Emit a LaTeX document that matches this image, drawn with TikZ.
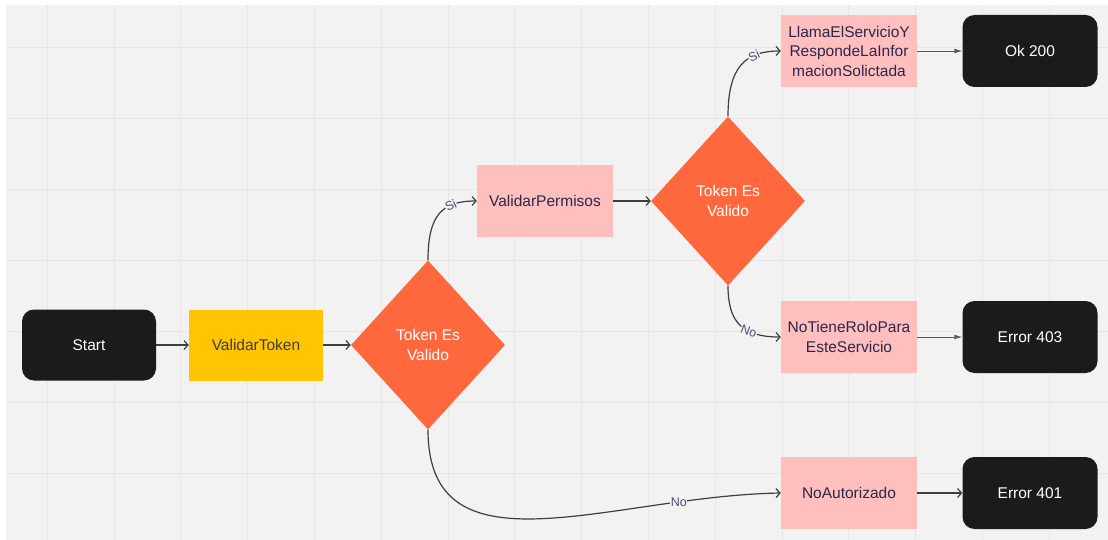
\documentclass[tikz,border=0pt]{standalone}
\usepackage{fontspec}
\setmainfont{Liberation Sans}
\usepackage{tikz}
\usetikzlibrary{arrows.meta}
\usetikzlibrary{shapes.geometric}
\definecolor{fc-bg}{HTML}{F2F2F2}
\definecolor{fc-grid}{HTML}{E6E6E6}
\definecolor{fc-dark}{HTML}{1B1B1B}
\definecolor{fc-yellow}{HTML}{FFC403}
\definecolor{fc-pink}{HTML}{FFBFBF}
\definecolor{fc-orange}{HTML}{FF683D}
\definecolor{fc-line}{HTML}{3E3E3E}
\definecolor{fc-text}{HTML}{2A2848}
\definecolor{fc-label}{HTML}{4B4A78}
\newcommand{\flowfont}{\fontsize{15.5}{19.5}\selectfont}

\begin{document}
\begin{tikzpicture}[x=1pt, y=-1pt,
    terminal/.style={fill=fc-dark, rounded corners=12pt, minimum width=134pt, minimum height=71pt, text=white, font=\flowfont},
    task/.style={fill=fc-pink, minimum width=136pt, minimum height=72pt, text=fc-text, align=center, inner sep=0pt, font=\flowfont},
    check/.style={diamond, fill=fc-orange, minimum width=154pt, minimum height=169pt, inner sep=0pt, text=white, align=center, font=\flowfont},
    flow/.style={draw=fc-line, line width=1.2pt, -{Straight Barb[length=4pt,width=9pt]}},
    solid flow/.style={draw=fc-line!85, line width=0.9pt, -{Latex[length=8pt,width=5pt]}},
    answer/.style={font=\fontsize{12.5}{14}\selectfont, text=fc-label, fill=fc-bg, inner sep=0.5pt}]
        % background and grid
        \useasboundingbox (0,0) rectangle (1108,540);
        \fill[white] (0,0) rectangle (1108,540);
        \fill[fc-bg] (6,5) rectangle (1108,540);
        \foreach \gx in {0,...,15}
            \draw[fc-grid, line width=1pt] ({47.3+66.8*\gx},5) -- ({47.3+66.8*\gx},540);
        \foreach \gy in {0,...,6}
            \draw[fc-grid, line width=1pt] (6,{47.7+70.9*\gy}) -- (1108,{47.7+70.9*\gy});
        % nodes
        \node[terminal] (start) at (89,345) {Start};
        \node[task, fill=fc-yellow, text=fc-dark!85, minimum width=134pt, minimum height=71pt] (token) at (256,345) {ValidarToken};
        \node[check] (tokenok) at (428,345) {Token Es\\Valido};
        \node[task] (perms) at (545,201) {ValidarPermisos};
        \node[check] (permok) at (728,201) {Token Es\\Valido};
        \node[task] (callsrv) at (849,51) {LlamaElServicioY\\RespondeLaInfor\\macionSolictada};
        \node[terminal, minimum width=135pt, minimum height=72pt] (ok) at (1030,51) {Ok 200};
        \node[task] (norole) at (849,337) {NoTieneRoloPara\\EsteServicio};
        \node[terminal, minimum width=135pt, minimum height=72pt] (err403) at (1030,337) {Error 403};
        \node[task] (noauth) at (849,493) {NoAutorizado};
        \node[terminal, minimum width=135pt, minimum height=72pt] (err401) at (1030,493) {Error 401};
        % connectors
        \draw[flow] (start) -- (token);
        \draw[flow] (token) -- (tokenok);
        \draw[flow] (tokenok.north) .. controls +(0,-45) and +(-35,0) .. node[answer, pos=0.7, rotate=25] {Si} (perms.west);
        \draw[flow] (perms) -- (permok);
        \draw[flow] (permok.north) .. controls +(0,-50) and +(-35,0) .. node[answer, pos=0.7, rotate=25] {Si} (callsrv.west);
        \draw[flow] (permok.south) .. controls +(0,35) and +(-40,0) .. node[answer, pos=0.66, rotate=-20] {No} (norole.west);
        \draw[flow] (tokenok.south) .. controls +(0,150) and +(-170,3) .. node[answer, pos=0.8] {No} (noauth.west);
        \draw[solid flow] (callsrv) -- (ok);
        \draw[solid flow] (norole) -- (err403);
        \draw[flow] (noauth) -- (err401);
    \end{tikzpicture}
\end{document}
